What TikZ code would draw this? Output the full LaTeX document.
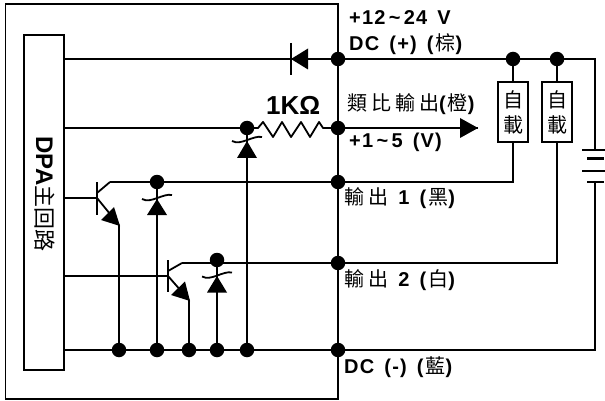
\documentclass[tikz,border=0pt]{standalone}
\usepackage{fontspec}
\setmainfont{Liberation Sans}[BoldFont={Liberation Sans Bold}]
\newfontfamily\latsp{Liberation Sans Bold}[LetterSpace=6,WordSpace=1.5]
\newfontfamily\cjk{Noto Sans CJK TC}
\newfontfamily\cjksp{Noto Sans CJK TC}[LetterSpace=20]
\usetikzlibrary{calc}
\newcommand{\C}[1]{{\fontsize{20}{22}\selectfont\cjksp #1}}
\newcommand{\Pc}[1]{(\hspace{2pt}\C{#1})}
\tikzset{
  wire/.style={line width=1.8pt,black},
  boxln/.style={draw,line width=1.8pt,black},
  dotn/.style={circle,fill=black,inner sep=0pt,minimum size=14.5pt},
  lab/.style={anchor=west,inner sep=0pt,font=\fontsize{20}{22}\selectfont\latsp},
  loadbox/.style={draw,line width=1.9pt,fill=white,minimum width=30pt,minimum height=60pt,inner sep=0pt,align=center,font=\fontsize{20}{25}\selectfont\cjk},
}
\newcommand{\zener}[2]{%
  \draw[wire] ($(#1,#2)+(-15,2)$) .. controls ($(#1,#2)+(-6,7)$) and ($(#1,#2)+(6,-4)$) .. ($(#1,#2)+(15,-2)$);
}
\begin{document}
\begin{tikzpicture}[x=1pt,y=-1pt]
\useasboundingbox (0,0) rectangle (605,401);
\fill[white] (0,0) rectangle (605,401);
% coordinates
\coordinate (tl) at (338,59);
\coordinate (ml) at (338,128);
\coordinate (o1) at (338,182);
\coordinate (o2) at (338,263);
\coordinate (bl) at (338,350);
\coordinate (arrtip) at (478,128);
\coordinate (tr) at (595,59);
\coordinate (br) at (595,350);
\coordinate (batT) at (595,150);
\coordinate (batB) at (595,182);
\coordinate (c1) at (63,59);
\coordinate (c2) at (63,128);
\coordinate (c3) at (63,198);
\coordinate (c4) at (63,276);
\coordinate (c5) at (63,350);
\coordinate (b1) at (97,198);
\coordinate (b2) at (168,276);
\coordinate (k1) at (110,182);
\coordinate (k2) at (182,263);
\coordinate (e1) at (119,225);
\coordinate (e2) at (189,300);
% frames
\draw[boxln] (5.5,4) rectangle (338,399);
\node[boxln,minimum width=40pt,minimum height=335pt,anchor=north west,inner sep=0pt,fill=white] (dpa) at (23,34) {};
\node[rotate=-90,inner sep=0pt,font=\fontsize{24}{26}\selectfont\bfseries] (dpat) at (44.5,194) {DPA{\fontsize{22}{24}\selectfont\cjk\mdseries 主回路}};
% dots
\foreach \n/\p in {d1/{338,59},d2/{338,128},d3/{338,182},d4/{338,263},d5/{338,350},
  d6/{513,59},d7/{557,59},d8/{247,128},d9/{157,182},d10/{217,260},
  d11/{119,350},d12/{157,350},d13/{189,350},d14/{217,350},d15/{247,350}}
  \node[dotn] (\n) at (\p) {};
% loads
\node[loadbox] (L1) at (513,112) {自\\載};
\node[loadbox] (L2) at (557,112) {自\\載};
% wires
\draw[wire] (c1) -- (tl) -- (tr) -- (batT);
\draw[wire] (batB) -- (br) -- (c5);
\draw[wire] (c2) -- (d8.center);
\draw[wire,line join=round] (d8.center) -- (258,128) -- (263,122) -- (273,137) -- (282,122) -- (291,137) -- (301,122) -- (310,137) -- (319,122) -- (323,128) -- (ml);
\draw[wire] (ml) -- (arrtip);
\fill (460,118) -- (478,128) -- (460,138) -- cycle;
\draw[wire] (d6.center) -- (L1.north);
\draw[wire] (d7.center) -- (L2.north);
\draw[wire] (L1.south) -- (513,182) -- (o1);
\draw[wire] (L2.south) -- (557,263) -- (o2);
\draw[wire] (k1) -- (o1);
\draw[wire] (k2) -- (o2);
% diode
\draw[wire] (291,43) -- (291,75);
\fill (291,59) -- (308,48.5) -- (308,69.5) -- cycle;
% transistor 1
\draw[wire] (c3) -- (b1);
\draw[wire] (97,182) -- (97,214.5);
\draw[wire] (97,193) -- (k1);
\draw[wire] (b1) -- (e1);
\fill (120,226) -- (101,220) -- (114,207) -- cycle;
\draw[wire] (119,225) -- (d11.center);
% transistor 2
\draw[wire] (c4) -- (b2);
\draw[wire] (168,260) -- (168,292);
\draw[wire] (168,271) -- (k2);
\draw[wire] (b2) -- (e2);
\fill (190,301) -- (171,295) -- (185,281.5) -- cycle;
\draw[wire] (189,300) -- (d13.center);
% zeners
\draw[wire] (d9.center) -- (d12.center);
\fill (157,199) -- (167,215) -- (147,215) -- cycle;
\zener{157}{197}
\draw[wire] (d10.center) -- (d14.center);
\fill (217,276) -- (227,292.5) -- (207,292.5) -- cycle;
\zener{217}{274.5}
\draw[wire] (d8.center) -- (d15.center);
\fill (247,141) -- (257,158) -- (237,158) -- cycle;
\zener{247}{139}
% battery
\draw[line width=2.2pt] (582,150) -- (605,150);
\draw[line width=2.2pt] (587,158.5) -- (604,158.5);
\draw[line width=2.2pt] (582,171) -- (605,171);
\draw[line width=2.2pt] (587,182) -- (604,182);
% labels
\node[lab] (t1) at (349,18) {+12\,\char`\~\,24 V};
\node[lab] (t2) at (349,44) {DC (+) \Pc{棕}};
\node[lab] (t3) at (347,104) {\C{類比輸出}\Pc{橙}};
\node[lab] (t4) at (349,142) {+1\,\char`\~\,5 (V)};
\node[lab] (t5) at (344,198) {\C{輸出} 1 \Pc{黑}};
\node[lab] (t6) at (344,280) {\C{輸出} 2 \Pc{白}};
\node[lab] (t7) at (344,367) {DC (-) \Pc{藍}};
\node[anchor=west,inner sep=0pt,font=\fontsize{26}{28}\selectfont\bfseries] (r) at (266,105) {1K\char"03A9};
\end{tikzpicture}
\end{document}
